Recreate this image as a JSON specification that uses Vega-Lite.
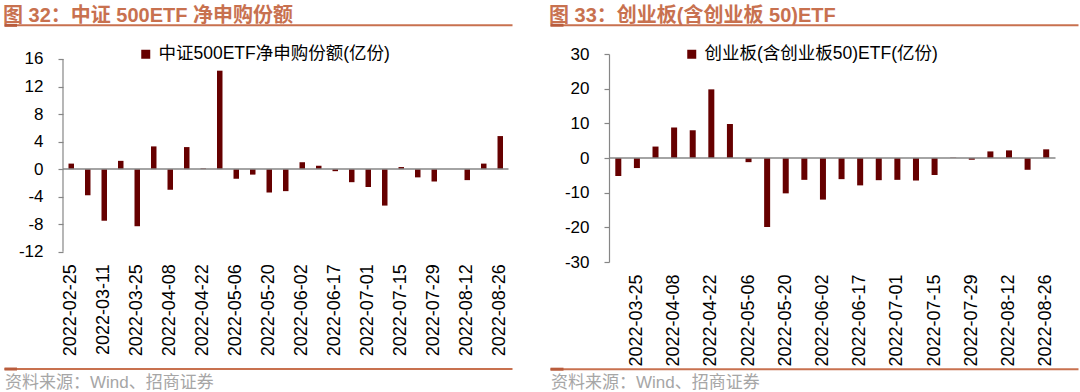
{
  "$schema": "https://vega.github.io/schema/vega-lite/v6.json",
  "background": "white",
  "padding": {"left": 3, "top": 5, "right": 0, "bottom": 0},
  "spacing": 35,
  "resolve": {"scale": {"color": "independent"}, "legend": {"color": "independent"}},
  "config": {
    "view": {"stroke": null},
    "font": "Liberation Sans, Noto Sans CJK SC",
    "axisY": {"grid": false, "domainColor": "#868686", "tickColor": "#868686", "tickSize": 5, "labelPadding": 15, "labelFontSize": 17, "labelColor": "#000000", "domainWidth": 1.2, "tickWidth": 1.2, "title": null, "labelOverlap": false, "labelFlush": false},
    "legend": {"orient": "none", "title": null, "symbolType": "square", "symbolSize": 81, "labelFontSize": 17.5, "labelOffset": 4, "padding": 0, "labelColor": "#000000", "symbolStrokeWidth": 0, "labelLimit": 0, "labelFont": "Liberation Sans, Noto Sans CJK SC"},
    "title": {"anchor": "start", "fontSize": 20, "fontWeight": "bold", "color": "#C8714F", "offset": -2, "font": "Liberation Sans, Noto Sans CJK SC"}
  },
  "hconcat": [
    {
      "width": 445.5,
      "height": 197.7,
      "title": {"text": "图 32：中证 500ETF 净申购份额"},
      "resolve": {"scale": {"x": "independent"}},
      "layer": [
        {
          "data": {"values": [
            {"date": "2022-02-25", "v": 0.8},
            {"date": "2022-03-04", "v": -3.8},
            {"date": "2022-03-11", "v": -7.5},
            {"date": "2022-03-18", "v": 1.2},
            {"date": "2022-03-25", "v": -8.3},
            {"date": "2022-04-01", "v": 3.3},
            {"date": "2022-04-08", "v": -3.0},
            {"date": "2022-04-15", "v": 3.2},
            {"date": "2022-04-22", "v": 0.1},
            {"date": "2022-04-29", "v": 14.3},
            {"date": "2022-05-06", "v": -1.4},
            {"date": "2022-05-13", "v": -0.8},
            {"date": "2022-05-20", "v": -3.4},
            {"date": "2022-05-27", "v": -3.2},
            {"date": "2022-06-02", "v": 1.0},
            {"date": "2022-06-10", "v": 0.5},
            {"date": "2022-06-17", "v": -0.3},
            {"date": "2022-06-24", "v": -1.9},
            {"date": "2022-07-01", "v": -2.6},
            {"date": "2022-07-08", "v": -5.3},
            {"date": "2022-07-15", "v": 0.3},
            {"date": "2022-07-22", "v": -1.2},
            {"date": "2022-07-29", "v": -1.8},
            {"date": "2022-08-05", "v": 0},
            {"date": "2022-08-12", "v": -1.6},
            {"date": "2022-08-19", "v": 0.8},
            {"date": "2022-08-26", "v": 4.8}
          ]},
          "mark": {"type": "bar"},
          "encoding": {
            "x": {"field": "date", "type": "ordinal", "sort": null,
              "scale": {"paddingInner": 0.667, "paddingOuter": 0.333},
              "axis": {"values": ["2022-02-25","2022-03-11","2022-03-25","2022-04-08","2022-04-22","2022-05-06","2022-05-20","2022-06-02","2022-06-17","2022-07-01","2022-07-15","2022-07-29","2022-08-12","2022-08-26"],
                "labelAngle": -90, "domain": false, "ticks": false, "tickSize": 0, "labelPadding": 12, "labelFontSize": 18, "labelColor": "#000000", "labelOverlap": false,
                "title": "资料来源：Wind、招商证券", "titleAnchor": "start", "titleAlign": "left", "titleX": -58.5, "titleY": 130.5, "titleBaseline": "middle", "titleFontSize": 17, "titleFontWeight": "normal", "titleColor": "#A6A6A6"}},
            "y": {"field": "v", "type": "quantitative", "scale": {"domain": [-12, 16.725], "nice": false, "zero": false}, "axis": {"values": [-12, -8, -4, 0, 4, 8, 12, 16], "tickCount": 50, "labelExpr": "'' + datum.value", "domain": false, "labelOverlap": false}},
            "color": {"datum": "中证500ETF净申购份额(亿份)", "scale": {"range": ["#660000"]}, "legend": {"legendX": 74, "legendY": -8.5}}
          }
        },
        {"data": {"values": [{}]}, "mark": {"type": "rule", "color": "#868686", "strokeWidth": 1.2, "strokeCap": "butt"},
          "encoding": {"x": {"datum": 0, "type": "quantitative", "scale": {"domain": [0, 1], "nice": false, "zero": false}, "axis": null}, "y": {"datum": -12}, "y2": {"datum": 16}}},
        {"data": {"values": [{}]}, "mark": {"type": "rule", "color": "#868686", "strokeWidth": 1.5}, "encoding": {"y": {"datum": 0}}},
        {"data": {"values": [{}]}, "mark": {"type": "rule", "color": "#C8714F", "strokeWidth": 2, "strokeCap": "butt"},
          "encoding": {"x": {"datum": -0.1313, "type": "quantitative", "scale": {"domain": [0, 1], "nice": false, "zero": false}, "axis": null}, "x2": {"datum": 1.009}, "y": {"datum": 20.889}}},
        {"data": {"values": [{}]}, "mark": {"type": "rule", "color": "#C8714F", "strokeWidth": 2, "strokeCap": "butt"},
          "encoding": {"x": {"datum": -0.1313, "type": "quantitative", "scale": {"domain": [0, 1], "nice": false, "zero": false}, "axis": null}, "x2": {"datum": 1.009}, "y": {"datum": -29.047}}},
        {"data": {"values": [{}]}, "mark": {"type": "rule", "color": "#B95C3C", "strokeWidth": 3, "strokeCap": "butt"},
          "encoding": {"x": {"datum": -0.1313, "type": "quantitative", "scale": {"domain": [0, 1], "nice": false, "zero": false}, "axis": null}, "x2": {"datum": -0.1033}, "y": {"datum": 20.889}}},
        {"data": {"values": [{}]}, "mark": {"type": "rule", "color": "#B95C3C", "strokeWidth": 3, "strokeCap": "butt"},
          "encoding": {"x": {"datum": -0.1313, "type": "quantitative", "scale": {"domain": [0, 1], "nice": false, "zero": false}, "axis": null}, "x2": {"datum": -0.1033}, "y": {"datum": -29.047}}}
      ]
    },
    {
      "width": 446.5,
      "height": 208,
      "title": {"text": "图 33：创业板(含创业板 50)ETF"},
      "resolve": {"scale": {"x": "independent"}},
      "layer": [
        {
          "data": {"values": [
            {"date": "2022-03-18", "v": -5.2},
            {"date": "2022-03-25", "v": -2.9},
            {"date": "2022-04-01", "v": 3.3},
            {"date": "2022-04-08", "v": 8.8},
            {"date": "2022-04-15", "v": 8.0},
            {"date": "2022-04-22", "v": 19.8},
            {"date": "2022-04-29", "v": 9.8},
            {"date": "2022-05-06", "v": -1.2},
            {"date": "2022-05-13", "v": -19.9},
            {"date": "2022-05-20", "v": -10.2},
            {"date": "2022-05-27", "v": -6.3},
            {"date": "2022-06-02", "v": -12.0},
            {"date": "2022-06-10", "v": -6.1},
            {"date": "2022-06-17", "v": -7.9},
            {"date": "2022-06-24", "v": -6.4},
            {"date": "2022-07-01", "v": -6.3},
            {"date": "2022-07-08", "v": -6.5},
            {"date": "2022-07-15", "v": -4.9},
            {"date": "2022-07-22", "v": 0.1},
            {"date": "2022-07-29", "v": -0.5},
            {"date": "2022-08-05", "v": 1.9},
            {"date": "2022-08-12", "v": 2.2},
            {"date": "2022-08-19", "v": -3.4},
            {"date": "2022-08-26", "v": 2.5}
          ]},
          "mark": {"type": "bar"},
          "encoding": {
            "x": {"field": "date", "type": "ordinal", "sort": null,
              "scale": {"paddingInner": 0.677, "paddingOuter": 0.3385},
              "axis": {"values": ["2022-03-25","2022-04-08","2022-04-22","2022-05-06","2022-05-20","2022-06-02","2022-06-17","2022-07-01","2022-07-15","2022-07-29","2022-08-12","2022-08-26"],
                "labelAngle": -90, "domain": false, "ticks": false, "tickSize": 0, "labelPadding": 12, "labelFontSize": 18, "labelColor": "#000000", "labelOverlap": false,
                "title": "资料来源：Wind、招商证券", "titleAnchor": "start", "titleAlign": "left", "titleX": -58.5, "titleY": 120.5, "titleBaseline": "middle", "titleFontSize": 17, "titleFontWeight": "normal", "titleColor": "#A6A6A6"}},
            "y": {"field": "v", "type": "quantitative", "scale": {"domain": [-30, 30], "nice": false, "zero": false}, "axis": {"values": [-30, -20, -10, 0, 10, 20, 30], "tickCount": 50, "labelExpr": "'' + datum.value", "labelOverlap": false}},
            "color": {"datum": "创业板(含创业板50)ETF(亿份)", "scale": {"range": ["#660000"]}, "legend": {"legendX": 74, "legendY": -8.5}}
          }
        },
        {"data": {"values": [{}]}, "mark": {"type": "rule", "color": "#868686", "strokeWidth": 1.5}, "encoding": {"y": {"datum": 0}}},
        {"data": {"values": [{}]}, "mark": {"type": "rule", "color": "#C8714F", "strokeWidth": 2, "strokeCap": "butt"},
          "encoding": {"x": {"datum": -0.131, "type": "quantitative", "scale": {"domain": [0, 1], "nice": false, "zero": false}, "axis": null}, "x2": {"datum": 1.0515}, "y": {"datum": 38.31}}},
        {"data": {"values": [{}]}, "mark": {"type": "rule", "color": "#C8714F", "strokeWidth": 2, "strokeCap": "butt"},
          "encoding": {"x": {"datum": -0.131, "type": "quantitative", "scale": {"domain": [0, 1], "nice": false, "zero": false}, "axis": null}, "x2": {"datum": 1.0515}, "y": {"datum": -60.92}}},
        {"data": {"values": [{}]}, "mark": {"type": "rule", "color": "#B95C3C", "strokeWidth": 3, "strokeCap": "butt"},
          "encoding": {"x": {"datum": -0.131, "type": "quantitative", "scale": {"domain": [0, 1], "nice": false, "zero": false}, "axis": null}, "x2": {"datum": -0.1019}, "y": {"datum": 38.31}}},
        {"data": {"values": [{}]}, "mark": {"type": "rule", "color": "#B95C3C", "strokeWidth": 3, "strokeCap": "butt"},
          "encoding": {"x": {"datum": -0.131, "type": "quantitative", "scale": {"domain": [0, 1], "nice": false, "zero": false}, "axis": null}, "x2": {"datum": -0.1019}, "y": {"datum": -60.92}}}
      ]
    }
  ]
}
